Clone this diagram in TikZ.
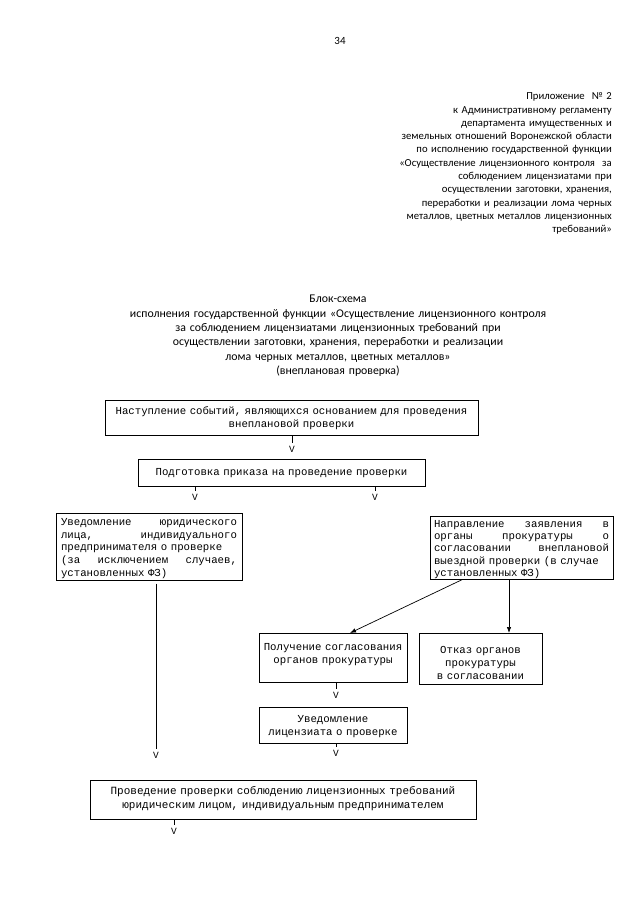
\documentclass[tikz,border=0pt]{standalone}
\usepackage{fontspec}
\setmainfont{Carlito}
\newfontfamily\boxfont{Liberation Mono}
\usetikzlibrary{arrows.meta}
\begin{document}
\begin{tikzpicture}[x=1pt,y=-1pt,
  box/.style={draw, line width=0.7pt, inner ysep=0pt, inner xsep=5pt, anchor=north,
    font=\boxfont\fontsize{10.7}{13}\selectfont},
  vmark/.style={font=\boxfont\fontsize{9.5}{10}\selectfont, inner xsep=1pt, inner ysep=2.5pt},
  link/.style={line width=0.7pt},
  arr/.style={line width=0.7pt, -{Latex[length=6pt,width=4.5pt]}}]
\useasboundingbox (0,0) rectangle (640,905);

\node[font=\fontsize{11}{13}\selectfont] (pg) at (340,41) {34};

\node[anchor=north east, align=right, text width=240pt, inner sep=0pt,
  text height=10pt, text depth=0pt, font=\fontsize{10.7}{13.3}\selectfont] (hdr) at (612,89.5)
  {Приложение\ \ №~2\\
   к Административному регламенту\\
   департамента имущественных и\\
   земельных отношений Воронежской области\\
   по исполнению государственной функции\\
   «Осуществление лицензионного контроля\ \ за\\
   соблюдением лицензиатами при\\
   осуществлении заготовки, хранения,\\
   переработки и реализации лома черных\\
   металлов, цветных металлов лицензионных\\
   требований»};

\node[anchor=north, align=center, text width=470pt, inner sep=0pt,
  text height=10pt, text depth=0pt, font=\fontsize{11.8}{14.4}\selectfont] (ttl) at (338,292.5)
  {Блок-схема\\
   исполнения государственной функции «Осуществление лицензионного контроля\\
   за соблюдением лицензиатами лицензионных требований при\\
   осуществлении заготовки, хранения, переработки и реализации\\
   лома черных металлов, цветных металлов»\\
   (внеплановая проверка)};

\node[box, text width=365pt, inner xsep=4pt, align=center, text height=14pt, text depth=21pt]
  (b1) at (291.5,400) {Наступление событий, являющихся основанием для проведения\\внеплановой проверки};
\node[box, text width=277pt, align=center, text height=16pt, text depth=11pt]
  (b2) at (281.5,459) {Подготовка приказа на проведение проверки};
\node[box, text width=176pt, align=left, text height=12pt, text depth=55pt,
  font=\boxfont\fontsize{10.7}{12.7}\selectfont]
  (b3) at (149,513) {Уведомление\hfill юридического\\
    лица,\hfill индивидуального\\
    предпринимателя о проверке\\
    (за\hfill исключением\hfill случаев,\\
    установленных ФЗ)};
\node[box, text width=175pt, inner xsep=4pt, align=left, text height=11pt, text depth=52pt,
  font=\boxfont\fontsize{10.7}{12.3}\selectfont]
  (b4) at (521.5,516) {Направление\hfill заявления\hfill в\\
    органы\hfill прокуратуры\hfill о\\
    согласовании\hfill внеплановой\\
    выездной проверки (в случае\\
    установленных ФЗ)};
\node[box, text width=142pt, inner xsep=3pt, align=center, text height=17pt, text depth=32pt]
  (b5) at (333,633) {Получение согласования\\органов прокуратуры};
\node[box, text width=113pt, align=center, text height=20pt, text depth=31pt]
  (b6) at (480.5,633) {Отказ органов\\прокуратуры\\в согласовании};
\node[box, text width=142pt, inner xsep=3pt, align=center, text height=15pt, text depth=21pt]
  (b7) at (333,707) {Уведомление\\лицензиата о проверке};
\node[box, text width=376pt, align=center, text height=14pt, text depth=25pt,
  font=\boxfont\fontsize{11}{14}\selectfont]
  (b8) at (283,780) {Проведение проверки соблюдению лицензионных требований\\юридическим лицом, индивидуальным предпринимателем};

\node[vmark] (v1) at (292,449) {V};
\node[vmark] (v2a) at (195,497) {V};
\node[vmark] (v2b) at (375,497) {V};
\node[vmark] (v3) at (156,755) {V};
\node[vmark] (v5) at (336,695) {V};
\node[vmark] (v7) at (336,753) {V};
\node[vmark] (v8) at (174,831) {V};

\draw[link] (v1 |- b1.south) -- (v1.north);
\draw[link] (v2a |- b2.south) -- (v2a.north);
\draw[link] (v2b |- b2.south) -- (v2b.north);
\draw[link, shorten <=3pt] (v3 |- b3.south) -- (v3.north);
\draw[link] (v5 |- b5.south) -- (v5.north);
\draw[link] (v7 |- b7.south) -- (v7.north);
\draw[link] (v8 |- b8.south) -- (v8.north);

\draw[arr] ([xshift=-59.5pt]b4.south) -- ([xshift=17pt]b5.north);
\draw[arr] ([xshift=-12.5pt]b4.south) -- ([xshift=-12.5pt]b4.south |- b6.north);
\end{tikzpicture}
\end{document}
